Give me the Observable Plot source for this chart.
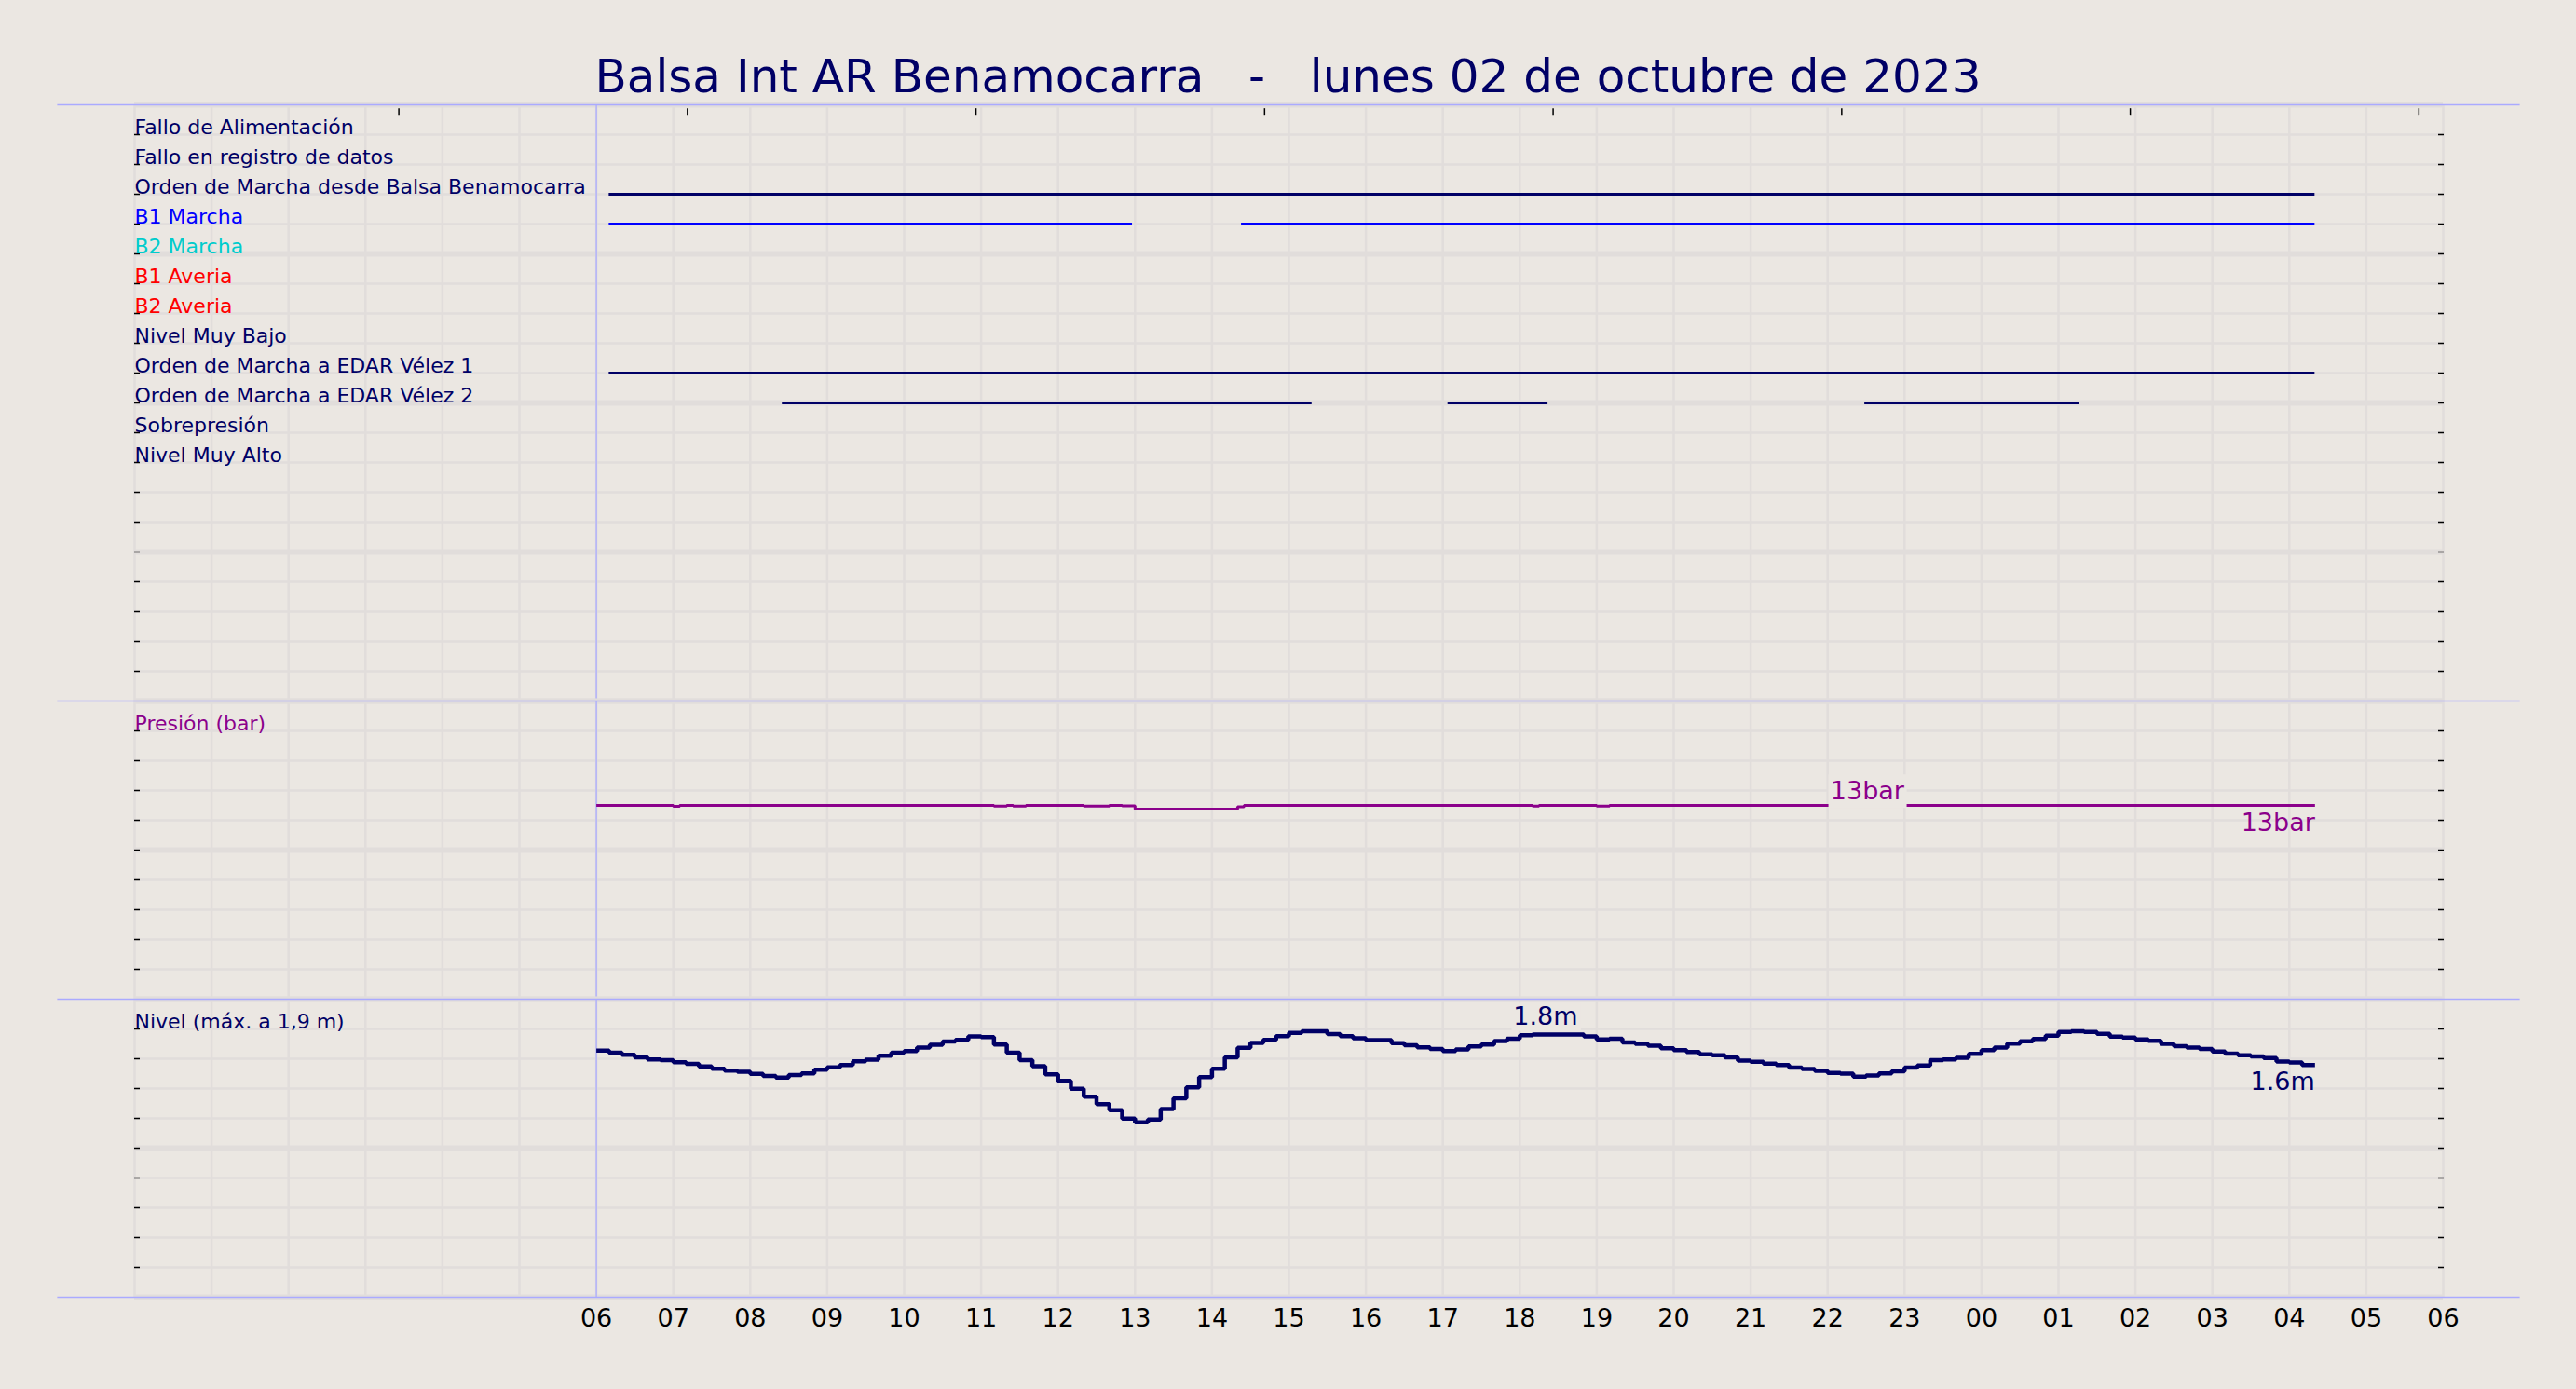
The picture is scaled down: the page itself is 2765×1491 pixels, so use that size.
<!DOCTYPE html>
<html>
<head>
<meta charset="utf-8">
<script src="https://cdn.jsdelivr.net/npm/d3@7"></script>
<script src="https://cdn.jsdelivr.net/npm/@observablehq/plot@0.6"></script>
<style>
  html, body { margin: 0; padding: 0; background: #ebe7e2; }
  #root { position: relative; width: 2765px; height: 1491px; background: #ebe7e2; overflow: hidden; font-family: "DejaVu Sans"; }
  #title { position: absolute; left: 0; top: 57px; width: 2765px; text-align: center; font-size: 50px; line-height: 50px; color: #000066; white-space: pre; }
  .panel { position: absolute; left: 0; }
</style>
</head>
<body>
<div id="root"><div id="title"></div></div>
<script>
// ---------------- DATA ----------------
const chartTitle = "Balsa Int AR Benamocarra   -   lunes 02 de octubre de 2023";

const signalNames = [
  "Fallo de Alimentación",
  "Fallo en registro de datos",
  "Orden de Marcha desde Balsa Benamocarra",
  "B1 Marcha",
  "B2 Marcha",
  "B1 Averia",
  "B2 Averia",
  "Nivel Muy Bajo",
  "Orden de Marcha a EDAR Vélez 1",
  "Orden de Marcha a EDAR Vélez 2",
  "Sobrepresión",
  "Nivel Muy Alto"
];
const signalColors = ["#000066", "#000066", "#000066", "#0000ff", "#00cccc", "#ff0000", "#ff0000", "#000066", "#000066", "#000066", "#000066", "#000066"];

// active periods of the digital signals
const activeSignal = [2, 3, 3, 8, 9, 9, 9];
const activeStart = ["2023-10-02T06:10", "2023-10-02T06:10", "2023-10-02T14:23", "2023-10-02T06:10", "2023-10-02T08:25", "2023-10-02T17:04", "2023-10-02T22:29"];
const activeEnd   = ["2023-10-03T04:20", "2023-10-02T12:58", "2023-10-03T04:20", "2023-10-03T04:20", "2023-10-02T15:18", "2023-10-02T18:22", "2023-10-03T01:16"];

// pressure (bar): change points
const pressTimes = ["2023-10-02T06:00", "2023-10-02T07:00", "2023-10-02T07:05", "2023-10-02T11:10", "2023-10-02T11:20", "2023-10-02T11:25", "2023-10-02T11:35",
  "2023-10-02T12:20", "2023-10-02T12:40", "2023-10-02T12:50", "2023-10-02T13:00", "2023-10-02T14:20", "2023-10-02T14:25", "2023-10-02T18:10", "2023-10-02T18:15",
  "2023-10-02T19:00", "2023-10-02T19:10", "2023-10-03T04:20"];
const pressValues = [13.0, 12.93, 13.0, 12.95, 13.0, 12.95, 13.0, 12.96, 13.0, 12.97, 12.75, 12.9, 13.0, 12.95, 13.0, 12.95, 13.0, 13.0];
const pressLabelTime = "2023-10-02T22:31";

// level (m): 10-minute samples from 06:00
const levelStart = "2023-10-02T06:00";
const levelStepMinutes = 10;
const levelValues = [
  1.654, 1.640, 1.627, 1.610, 1.596, 1.590,   // 06
  1.577, 1.565, 1.548, 1.533, 1.521, 1.513,   // 07
  1.498, 1.485, 1.473, 1.490, 1.502, 1.527,   // 08
  1.542, 1.558, 1.583, 1.594, 1.621, 1.640,   // 09
  1.652, 1.675, 1.694, 1.715, 1.727, 1.750,   // 10
  1.745, 1.696, 1.640, 1.590, 1.550, 1.496,   // 11
  1.452, 1.398, 1.346, 1.296, 1.254, 1.198,   // 12
  1.173, 1.192, 1.263, 1.335, 1.408, 1.477,   // 13
  1.533, 1.610, 1.673, 1.706, 1.727, 1.752,   // 14
  1.773, 1.785, 1.785, 1.765, 1.752, 1.738,   // 15
  1.725, 1.725, 1.704, 1.690, 1.677, 1.665,   // 16
  1.652, 1.663, 1.683, 1.696, 1.719, 1.735,   // 17
  1.758, 1.763, 1.763, 1.763, 1.763, 1.750,   // 18
  1.729, 1.735, 1.710, 1.700, 1.688, 1.671,   // 19
  1.658, 1.646, 1.629, 1.623, 1.610, 1.588,   // 20
  1.579, 1.567, 1.558, 1.540, 1.531, 1.519,   // 21
  1.504, 1.500, 1.479, 1.488, 1.502, 1.515,   // 22
  1.540, 1.554, 1.590, 1.596, 1.606, 1.633,   // 23
  1.658, 1.675, 1.702, 1.717, 1.733, 1.754,   // 00
  1.779, 1.785, 1.779, 1.767, 1.748, 1.742,   // 01
  1.729, 1.721, 1.700, 1.685, 1.675, 1.665,   // 02
  1.648, 1.635, 1.623, 1.615, 1.604, 1.581,   // 03
  1.575, 1.558, 1.558                         // 04
];
const levelLabelTime = "2023-10-02T18:20";

// small marks along the top edge of the status panel
const topTickTimes = ["2023-10-02T03:26", "2023-10-02T07:11", "2023-10-02T10:56", "2023-10-02T14:41", "2023-10-02T18:26", "2023-10-02T22:11", "2023-10-03T01:56", "2023-10-03T05:41"];

// ---------------- BUILD ----------------
const utc = s => new Date(s + ":00Z");
const bg = "#ebe7e2", gridC = "#e1dddb", sepC = "#aaaaff", navy = "#000066", purple = "#8b008b";
const W = 2765, ML = 144, MR = 143;
const labelSize = 22;
const xDomain = [utc("2023-10-02T00:00"), utc("2023-10-03T06:00")];
const hours = d3.utcHour.range(xDomain[0], d3.utcHour.offset(xDomain[1], 1));
const sepX1 = d3.utcHour.offset(xDomain[0], -1), sepX2 = d3.utcHour.offset(xDomain[1], 1);
const t06 = utc("2023-10-02T06:00");
const xOpts = {type: "utc", domain: xDomain, range: [ML, W - MR], axis: null};
const style = {background: "transparent", overflow: "visible", fontFamily: "DejaVu Sans", color: "black"};

document.getElementById("title").textContent = chartTitle;

function place(svg, top) {
  svg.classList.add("panel");
  svg.style.position = "absolute";
  svg.style.top = top + "px";
  svg.style.left = "0px";
  document.getElementById("root").appendChild(svg);
}

function frameMarks(yGrid, isMajor, yTicks) {
  return [
    Plot.ruleX(hours, {x: d => d, stroke: gridC, strokeWidth: 2.5}),
    Plot.ruleY(yGrid, {y: d => d, stroke: gridC, strokeWidth: (d, i) => isMajor(i) ? 6 : 2.5}),
    Plot.axisY(yTicks, {anchor: "left", tickSize: 6, dx: 6, tickFormat: () => "", stroke: "black", strokeWidth: 1.5, label: null}),
    Plot.axisY(yTicks, {anchor: "right", tickSize: 6, dx: -6, tickFormat: () => "", stroke: "black", strokeWidth: 1.5, label: null}),
    Plot.ruleX([t06], {x: d => d, stroke: sepC, strokeWidth: 1.3})
  ];
}

// ---- Panel 1: digital signals
const segments = activeSignal.map((s, i) => ({row: s + 1, start: utc(activeStart[i]), end: utc(activeEnd[i]), color: signalColors[s]}));
const rows = d3.range(0, 21);
const p1 = Plot.plot({
  width: W, height: 640, marginTop: 0, marginBottom: 0, marginLeft: ML, marginRight: MR,
  style, x: xOpts, y: {domain: [0, 20], range: [0, 640], axis: null}, color: {type: "identity"},
  marks: [
    ...frameMarks(rows, i => i % 5 === 0, d3.range(1, 20)),
    Plot.ruleX(topTickTimes.map(utc), {x: d => d, y1: 0.13, y2: 0.35, stroke: "black", strokeWidth: 1.5}),
    Plot.text(signalNames, {x: () => xDomain[0], y: (d, i) => i + 1, text: d => d, fill: (d, i) => signalColors[i], textAnchor: "start", lineAnchor: "bottom", dy: -1, fontSize: labelSize}),
    Plot.ruleY(segments, {y: d => d.row, x1: d => d.start, x2: d => d.end, stroke: d => d.color, strokeWidth: 3}),
    Plot.ruleY([0], {y: d => d, x1: () => sepX1, x2: () => sepX2, stroke: sepC, strokeWidth: 1.5})
  ]
});
place(p1, 112);

// ---- Panel 2: pressure
const press = pressTimes.map((t, i) => ({t: utc(t), v: pressValues[i]}));
const pLast = press[press.length - 1];
const pLabT = utc(pressLabelTime);
const pLabV = d3.least(press.filter(d => d.t <= pLabT), d => -d.t).v;
const pGrid = d3.range(0, 11).map(i => i * 2);
const p2 = Plot.plot({
  width: W, height: 320, marginTop: 0, marginBottom: 0, marginLeft: ML, marginRight: MR,
  style, x: xOpts, y: {domain: [0, 20], range: [320, 0], axis: null}, color: {type: "identity"},
  marks: [
    ...frameMarks(pGrid, i => i % 5 === 0, pGrid.slice(1, 10)),
    Plot.text(["Presión (bar)"], {x: () => xDomain[0], y: () => 18, text: d => d, fill: purple, textAnchor: "start", lineAnchor: "bottom", dy: -1, fontSize: labelSize}),
    Plot.line(press, {x: "t", y: "v", curve: "step-after", stroke: purple, strokeWidth: 3, strokeLinecap: "butt", strokeLinejoin: "miter"}),
    Plot.rect([pLabV], {x1: () => d3.utcMinute.offset(pLabT, -30), x2: () => d3.utcMinute.offset(pLabT, 31), y1: d => d - 0.2, y2: d => d + 2.05, fill: bg}),
    Plot.text([pLabV], {x: () => pLabT, y: d => d, text: d => `${d3.format(".0f")(d)}bar`, fill: purple, lineAnchor: "bottom", dy: -7, fontSize: 27}),
    Plot.text([pLast], {x: "t", y: "v", text: d => `${d3.format(".0f")(d.v)}bar`, fill: purple, textAnchor: "end", lineAnchor: "top", dy: 8, fontSize: 27}),
    Plot.ruleY([20], {y: d => d, x1: () => sepX1, x2: () => sepX2, stroke: sepC, strokeWidth: 1.5})
  ]
});
place(p2, 752);

// ---- Panel 3: level
const lStart = utc(levelStart);
const level = levelValues.map((v, i) => ({t: d3.utcMinute.offset(lStart, i * levelStepMinutes), v}));
const lLast = level[level.length - 1];
const lLabT = utc(levelLabelTime);
const lLab = level.find(d => +d.t === +lLabT);
const lGrid = d3.range(0, 11).map(i => +(i * 0.2).toFixed(1));
const xTicks = d3.utcHour.range(t06, d3.utcHour.offset(xDomain[1], 1));
const p3 = Plot.plot({
  width: W, height: 400, marginTop: 0, marginBottom: 80, marginLeft: ML, marginRight: MR,
  style, x: xOpts, y: {domain: [0, 2], range: [320, 0], axis: null}, color: {type: "identity"},
  marks: [
    ...frameMarks(lGrid, i => i % 5 === 0, lGrid.slice(1, 10)),
    Plot.text(["Nivel (máx. a 1,9 m)"], {x: () => xDomain[0], y: () => 1.8, text: d => d, fill: navy, textAnchor: "start", lineAnchor: "bottom", dy: -1, fontSize: labelSize}),
    Plot.line(level, {x: "t", y: "v", curve: "step-after", stroke: navy, strokeWidth: 4.5, strokeLinecap: "butt", strokeLinejoin: "miter"}),
    Plot.rect([lLab], {x1: d => d3.utcMinute.offset(d.t, -26), x2: d => d3.utcMinute.offset(d.t, 28), y1: d => d.v + 0.02, y2: d => d.v + 0.21, fill: bg}),
    Plot.text([lLab], {x: "t", y: "v", text: d => `${d3.format(".1f")(d.v)}m`, fill: navy, lineAnchor: "bottom", dy: -10, fontSize: 27}),
    Plot.text([lLast], {x: "t", y: "v", text: d => `${d3.format(".1f")(d.v)}m`, fill: navy, textAnchor: "end", lineAnchor: "top", dy: 8, fontSize: 27}),
    Plot.axisX(xTicks, {anchor: "bottom", tickSize: 0, tickPadding: 12, tickFormat: d3.utcFormat("%H"), fontSize: 27, label: null}),
    Plot.ruleY([2], {y: d => d, x1: () => sepX1, x2: () => sepX2, stroke: sepC, strokeWidth: 1.5}),
    Plot.ruleY([0], {y: d => d, x1: () => sepX1, x2: () => sepX2, stroke: sepC, strokeWidth: 1.5})
  ]
});
place(p3, 1072);
</script>
</body>
</html>
